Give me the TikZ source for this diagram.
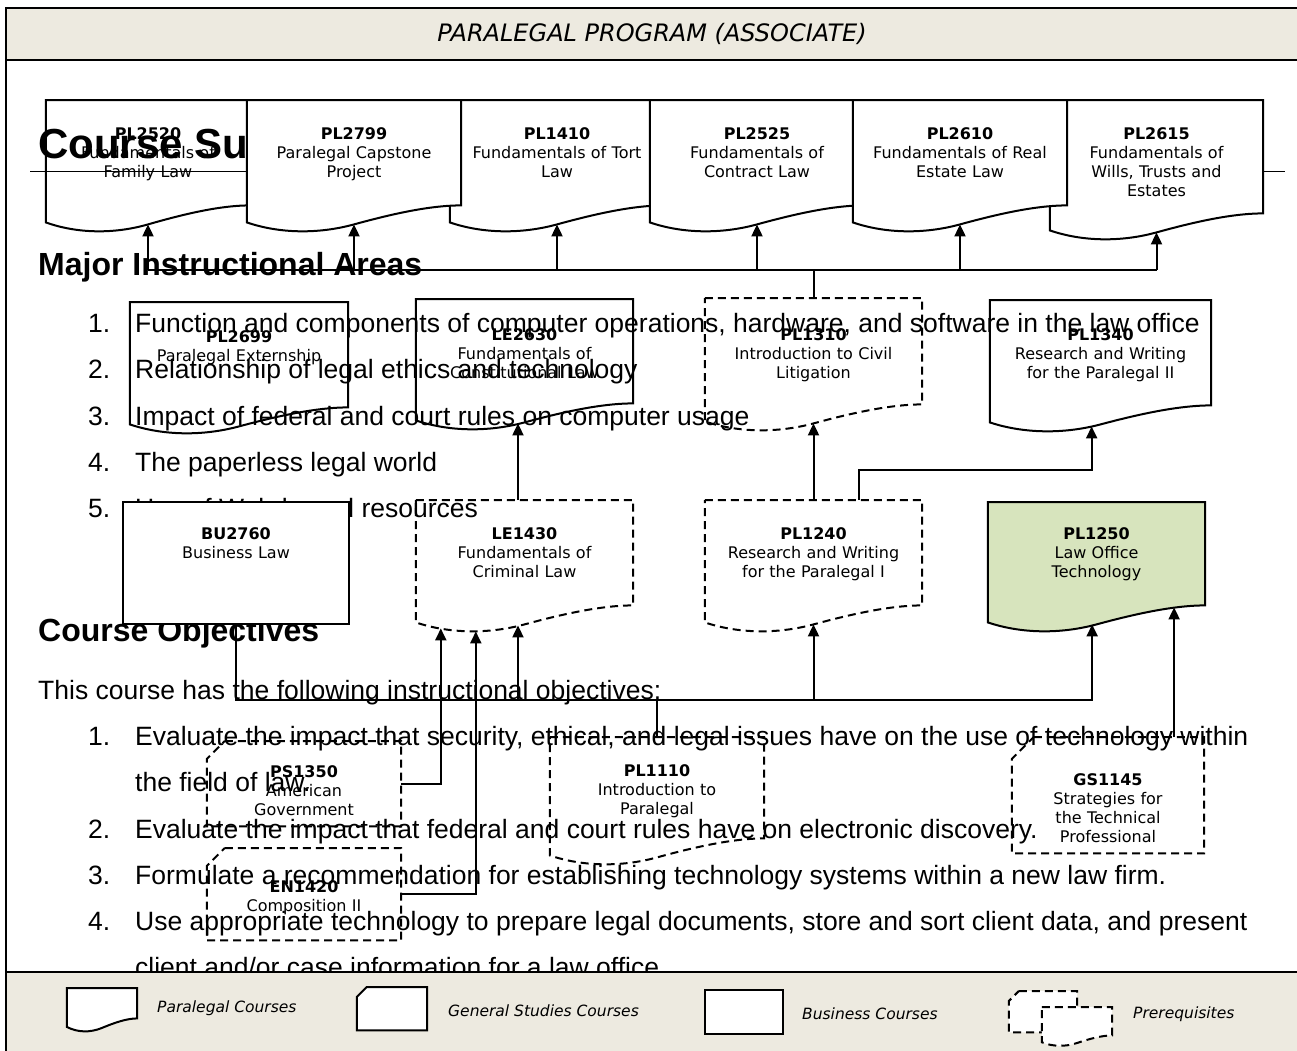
\documentclass[tikz,border=0pt]{standalone}
\usepackage{fontspec}
\setmainfont{DejaVu Sans}
\newfontfamily\wordfont{Liberation Sans}
\usetikzlibrary{arrows.meta,calc}
\definecolor{bandfill}{RGB}{237,234,224}
\definecolor{techfill}{RGB}{215,228,189}
\pgfdeclarelayer{under}
\pgfdeclarelayer{words}
\pgfdeclarelayer{over}
\pgfsetlayers{under,words,over,main}

% outline of a paralegal (document) box, #2 scales the wave
\newcommand\docline[2]{(#1.north west) -- (#1.north east) -- (#1.south east)
  .. controls ($(#1.south west)!.85!(#1.south east)$) and ($(#1.south west)!.67!(#1.south east)+(0,9*#2)$) .. ($(#1.south west)!.5!(#1.south east)+(0,19*#2)$)
  .. controls ($(#1.south west)!.33!(#1.south east)+(0,29*#2)$) and ($(#1.south west)!.15!(#1.south east)+(0,28*#2)$) .. ($(#1.south west)+(0,17*#2)$) -- cycle}
% outline of a general studies box (cut corner)
\newcommand\cardline[2]{($(#1.north west)+(#2,0)$) -- (#1.north east) -- (#1.south east) -- (#1.south west) -- ($(#1.north west)+(0,#2)$) -- cycle}

\tikzset{
  course/.style n args={3}{rectangle, inner sep=0pt, anchor=north, minimum width=#1, text width=#1-14, align=center, text height=#3, text depth=#2-#3, font=\fontsize{16}{19}\selectfont},
  icon/.style 2 args={rectangle, inner sep=0pt, anchor=north, minimum width=#1, minimum height=#2},
  boxline/.style={line width=2pt, fill=white},
  prereq/.style={dash pattern=on 8pt off 5pt},
  word/.style={font=\wordfont\fontsize{26.5}{30}\selectfont, inner sep=0pt, anchor=base west},
  headword/.style={word, font=\wordfont\bfseries\fontsize{32}{36}\selectfont},
  wire/.style={line width=2pt},
  flow/.style={wire, -{Triangle[length=12pt,width=11pt]}},
  keytext/.style={font=\itshape\fontsize{15.5}{18}\selectfont, anchor=west, inner sep=0pt}
}

\begin{document}
\begin{tikzpicture}[x=1pt,y=-1pt]
\useasboundingbox (0,0) rectangle (1297,1050);

% Header band and frame
\path[fill=bandfill] (6,8) rectangle (1310,60);
\draw[line width=2pt] (6,60) -- (1310,60);
\draw[line width=2pt] (6,8) rectangle (1310,1070);
% Text Node
\node[font=\itshape\fontsize{24}{28}\selectfont] (title) at (652,34) {PARALEGAL PROGRAM (ASSOCIATE)};

% Course summary text behind the chart
\begin{pgfonlayer}{words}
\node[word, font=\wordfont\bfseries\fontsize{42}{46}\selectfont] (sumhead) at (38,158) {Course Summary};
\draw[line width=1pt] (30,171) -- (1285,171);
\node[headword] (areahead) at (38,275) {Major Instructional Areas};
\foreach \i/\t [evaluate=\i as \yb using 332.5+46.3*(\i-1)] in {1/{Function and components of computer operations, hardware, and software in the law office}, 2/{Relationship of legal ethics and technology}, 3/{Impact of federal and court rules on computer usage}, 4/{The paperless legal world}, 5/{Use of Web-based resources}}{
  \node[word] (areanum\i) at (88,\yb) {\i.};
  \node[word] (area\i) at (135,\yb) {\t};
}
\node[headword] (objhead) at (38,641) {Course Objectives};
\node[word] (objintro) at (38,699) {This course has the following instructional objectives:};
\node[word] (objnum1) at (88,745.5) {1.};
\node[word] (obj1) at (135,745.5) {Evaluate the impact that security, ethical, and legal issues have on the use of technology within};
\node[word] (obj1b) at (135,791.5) {the field of law.};
\node[word] (objnum2) at (88,838) {2.};
\node[word] (obj2) at (135,838) {Evaluate the impact that federal and court rules have on electronic discovery.};
\node[word] (objnum3) at (88,884) {3.};
\node[word] (obj3) at (135,884) {Formulate a recommendation for establishing technology systems within a new law firm.};
\node[word] (objnum4) at (88,930) {4.};
\node[word] (obj4) at (135,930) {Use appropriate technology to prepare legal documents, store and sort client data, and present};
\node[word] (obj4b) at (135,976) {client and/or case information for a law office.};
\end{pgfonlayer}

% Course boxes
\node[course={204}{105}{39}] (PL2520) at (148,100) {\textbf{PL2520}\\Fundamentals of\\Family Law};
\node[course={214}{105}{39}] (PL1410) at (557,100) {\textbf{PL1410}\\Fundamentals of Tort\\Law};
\node[course={213}{113}{39}] (PL2615) at (1156.5,100) {\textbf{PL2615}\\Fundamentals of\\Wills, Trusts and\\Estates};
\node[course={214}{105}{39}] (PL2525) at (757,100) {\textbf{PL2525}\\Fundamentals of\\Contract Law};
\node[course={214}{105}{39}] (PL2610) at (960,100) {\textbf{PL2610}\\Fundamentals of Real\\Estate Law};
\node[course={214}{105}{39}] (PL2799) at (354,100) {\textbf{PL2799}\\Paralegal Capstone\\Project};

\node[course={218}{105}{40}] (PL2699) at (239,302) {\textbf{PL2699}\\Paralegal Externship};
\node[course={217}{104}{41}] (LE2630) at (524.5,299) {\textbf{LE2630}\\Fundamentals of\\Constitutional Law};
\node[course={217}{106}{42}] (PL1310) at (813.5,298) {\textbf{PL1310}\\Introduction to Civil\\Litigation};
\node[course={221}{105}{40}] (PL1340) at (1100.5,300) {\textbf{PL1340}\\Research and Writing\\for the Paralegal II};

\node[course={226}{122}{37}] (BU2760) at (236,502) {\textbf{BU2760}\\Business Law};
\node[course={217}{105}{39}] (LE1430) at (524.5,500) {\textbf{LE1430}\\Fundamentals of\\Criminal Law};
\node[course={217}{105}{39}] (PL1240) at (813.5,500) {\textbf{PL1240}\\Research and Writing\\for the Paralegal I};
\node[course={217}{103}{37}] (PL1250) at (1096.5,502) {\textbf{PL1250}\\Law Office\\Technology};

\node[course={194}{85}{36}] (PS1350) at (304,741) {\textbf{PS1350}\\American\\Government};
\node[course={214}{101}{39}] (PL1110) at (657,737) {\textbf{PL1110}\\Introduction to\\Paralegal};
\node[course={192}{116}{48}] (GS1145) at (1108,737) {\textbf{GS1145}\\Strategies for\\the Technical\\Professional};
\node[course={194}{92}{44}] (EN1420) at (304,848) {\textbf{EN1420}\\Composition II};

% Box outlines below the text
\begin{pgfonlayer}{under}
\draw[boxline] \docline{PL2520}{1};
\draw[boxline] \docline{PL2699}{1};
\draw[boxline] \docline{LE2630}{1};
\draw[boxline, prereq] \docline{PL1310}{1};
\draw[boxline] \docline{PL1340}{1};
\draw[boxline, prereq] \docline{LE1430}{1};
\draw[boxline, prereq] \docline{PL1240}{1};
\draw[boxline, fill=techfill] \docline{PL1250}{1};
\draw[boxline, prereq] \cardline{PS1350}{18};
\draw[boxline, prereq] \docline{PL1110}{1};
\draw[boxline, prereq] \cardline{GS1145}{22};
\draw[boxline, prereq] \cardline{EN1420}{18};
\end{pgfonlayer}

% Box outlines above the text
\begin{pgfonlayer}{over}
\draw[boxline] \docline{PL1410}{1};
\draw[boxline] \docline{PL2615}{1};
\draw[boxline] \docline{PL2525}{1};
\draw[boxline] \docline{PL2610}{1};
\draw[boxline] \docline{PL2799}{1};
\draw[boxline] (BU2760.north west) rectangle (BU2760.south east);
\end{pgfonlayer}

% Connector end points
\coordinate (topbus) at (0,270);
\coordinate (lowbus) at (0,700);
\coordinate (p2630) at ($(LE2630.south west)!.47!(LE2630.south east)+(0,20)$);
\coordinate (p1310) at ($(PL1310.south)+(0,19)$);
\coordinate (p1340) at ($(PL1340.south west)!.46!(PL1340.south east)+(0,21)$);
\coordinate (p1430a) at ($(LE1430.south west)!.115!(LE1430.south east)+(0,23)$);
\coordinate (p1430b) at ($(LE1430.south west)!.276!(LE1430.south east)+(0,26)$);
\coordinate (p1430c) at ($(LE1430.south west)!.47!(LE1430.south east)+(0,20)$);
\coordinate (p1240) at ($(PL1240.south)+(0,19)$);
\coordinate (p1250a) at ($(PL1250.south west)!.48!(PL1250.south east)+(0,19)$);
\coordinate (p1250b) at ($(PL1250.south west)!.857!(PL1250.south east)+(0,2)$);

% Connectors
\draw[wire] (PL1310.north) -- (PL1310.north |- topbus);
\draw[wire] (PL2520.south |- topbus) -- (PL2615.south |- topbus);
\foreach \c in {PL2520,PL2799,PL1410,PL2525,PL2610,PL2615}
  \draw[flow] (\c.south |- topbus) -- ($(\c.south)+(0,19)$);
\draw[flow] (LE1430.north -| p2630) -- (p2630);
\draw[flow] (PL1240.north -| p1310) -- (p1310);
\draw[flow] ($(PL1240.north)+(45,0)$) -- ++(0,-30) -| (p1340);
\draw[flow] (BU2760.south) -- (BU2760.south |- lowbus) -| (p1250a);
\draw[wire] (PL1110.north) -- (PL1110.north |- lowbus);
\draw[flow] (p1430c |- lowbus) -- (p1430c);
\draw[flow] (p1240 |- lowbus) -- (p1240);
\draw[flow] (PS1350.east) -| (p1430a);
\draw[flow] (EN1420.east) -| (p1430b);
\draw[flow] (GS1145.north -| p1250b) -- (p1250b);

% Footer with the legend
\node[icon={70}{30}] (keyPL) at (102,988) {};
\node[icon={70}{43}] (keyGS) at (392,987) {};
\node[icon={78}{44}] (keyBU) at (744,990) {};
\node[icon={68}{41}] (keyPRa) at (1043,991) {};
\node[icon={70}{28}] (keyPRb) at (1077,1007) {};
\begin{pgfonlayer}{over}
\path[fill=bandfill] (6,972) rectangle (1310,1070);
\draw[line width=2pt] (6,972) -- (1310,972);
\draw[boxline] \docline{keyPL}{0.5};
\draw[boxline] \cardline{keyGS}{10};
\draw[boxline] (keyBU.north west) rectangle (keyBU.south east);
\draw[boxline, prereq] \cardline{keyPRa}{10};
\draw[boxline, prereq] \docline{keyPRb}{0.4};
\end{pgfonlayer}
% Text Node
\node[keytext] (keyPLtext) at (157,1008) {Paralegal Courses};
\node[keytext] (keyGStext) at (448,1011) {General Studies Courses};
\node[keytext] (keyBUtext) at (802,1014) {Business Courses};
\node[keytext] (keyPRtext) at (1133,1014) {Prerequisites};

\end{tikzpicture}
\end{document}
